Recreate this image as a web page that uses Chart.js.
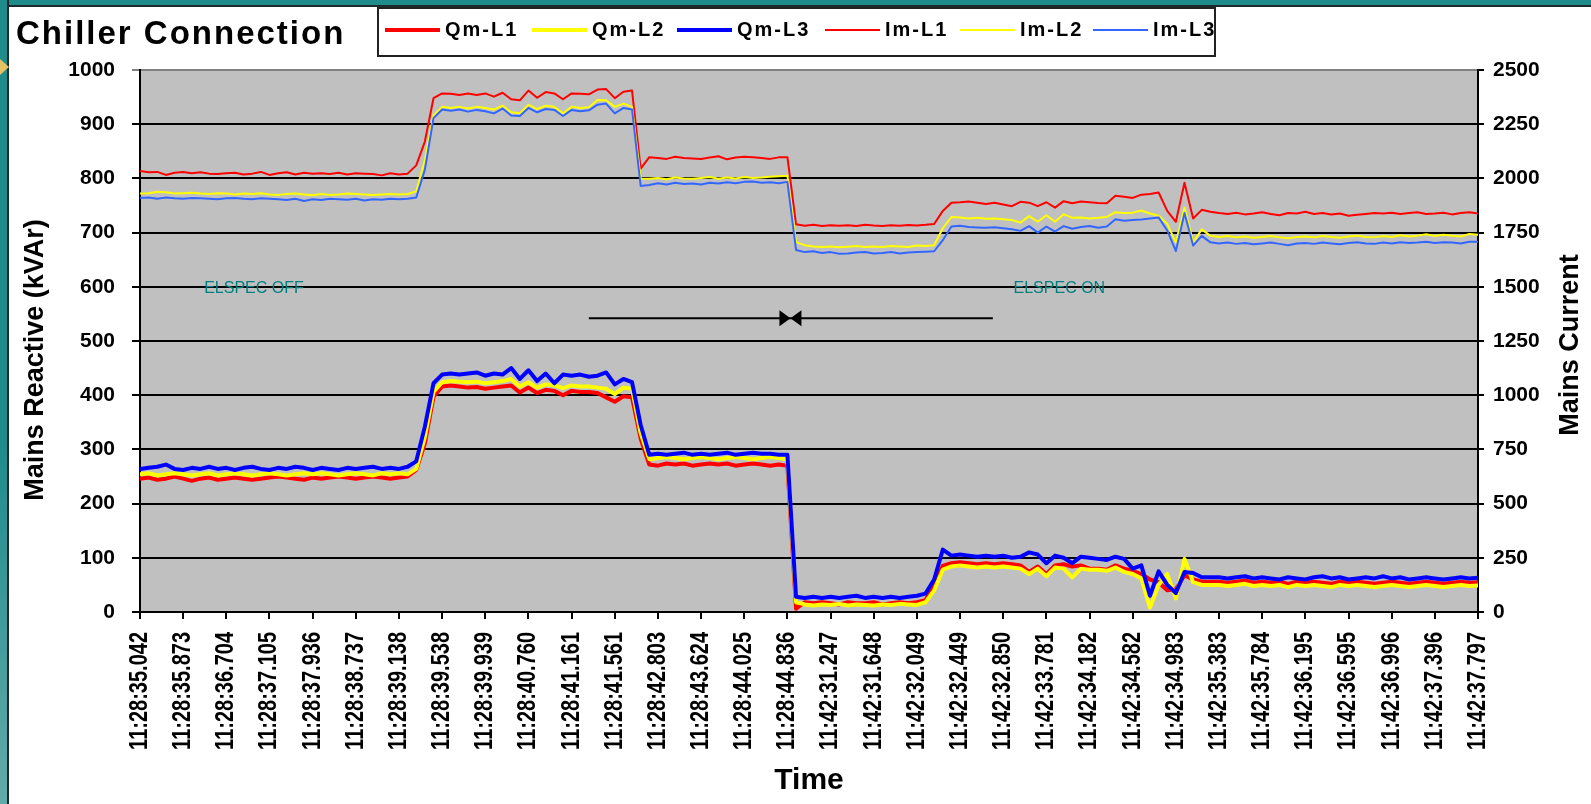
<!DOCTYPE html>
<html>
<head>
<meta charset="utf-8">
<title>Chiller Connection</title>
<script src="https://cdn.jsdelivr.net/npm/chart.js@4.4.1/dist/chart.umd.min.js"></script>
<style>
  html, body { margin: 0; padding: 0; background: #ffffff; }
  body { width: 1591px; height: 804px; position: relative; overflow: hidden;
         font-family: "Liberation Sans", Arial, sans-serif; }
  #chart { position: absolute; left: 0; top: 0; }
  .frame-top { position: absolute; left: 0; top: 0; width: 1591px; height: 5px;
               background: #1f8b8b; border-bottom: 2px solid #1b2b2b; z-index: 3; }
  .frame-left { position: absolute; left: 0; top: 0; width: 7px; height: 804px;
                background: linear-gradient(#1f8b8b, #1f8b8b 55%, #64aaaa);
                border-right: 2px solid #1b2b2b; z-index: 3; }
  .frame-pointer { position: absolute; left: 0; top: 59px; width: 0; height: 0;
                   border-top: 8px solid transparent; border-bottom: 8px solid transparent;
                   border-left: 9px solid #e4c266; z-index: 4; }
  #title { position: absolute; left: 16px; top: 16px; font-size: 33px; line-height: 33px;
           font-weight: bold; letter-spacing: 2px; color: #000; white-space: nowrap; }
  #legend { position: absolute; left: 377px; top: 7px; width: 839px; height: 50px;
            box-sizing: border-box; border: 2px solid #222; background: #fff; }
  #legend .item { position: absolute; top: 0; height: 41px; display: flex; align-items: center; white-space: nowrap; }
  #legend .swatch { width: 55px; margin-right: 5px; }
  #legend .text { font-size: 20px; font-weight: bold; letter-spacing: 2px; color: #000; }
</style>
</head>
<body>
<canvas id="chart" width="1591" height="804"></canvas>
<div class="frame-top"></div>
<div class="frame-left"></div>
<div class="frame-pointer"></div>
<div id="title">Chiller Connection</div>
<div id="legend"></div>
<script>
// Time stamps printed under every fifth sample
const TIME_LABELS = [
  '11:28:35.042', '11:28:35.873', '11:28:36.704', '11:28:37.105', '11:28:37.936',
  '11:28:38.737', '11:28:39.138', '11:28:39.538', '11:28:39.939', '11:28:40.760',
  '11:28:41.161', '11:28:41.561', '11:28:42.803', '11:28:43.624', '11:28:44.025',
  '11:28:44.836', '11:42:31.247', '11:42:31.648', '11:42:32.049', '11:42:32.449',
  '11:42:32.850', '11:42:33.781', '11:42:34.182', '11:42:34.582', '11:42:34.983',
  '11:42:35.383', '11:42:35.784', '11:42:36.195', '11:42:36.595', '11:42:36.996',
  '11:42:37.396', '11:42:37.797'
];
const SAMPLES_PER_LABEL = 5;

// Mains reactive power per phase (kVAr, left axis)
const QM_L1 = [
  246, 248, 244, 246, 250, 246, 242, 246, 248, 244, 246, 248, 246, 244, 246, 248,
  250, 248, 246, 244, 248, 246, 248, 250, 248, 246, 248, 250, 248, 246, 248, 250,
  262, 311, 397,
  416, 418, 416, 414, 415, 412, 414, 416, 418, 405, 414, 404, 410, 408, 400, 408,
  406, 406, 404, 396, 388, 398, 396,
  320,
  272, 270, 274, 272, 274, 270, 272, 274, 272, 274, 270, 272, 274, 272, 270, 272, 270,
  6, 18, 16, 18, 16, 14, 18, 16, 16, 18, 14, 16, 18, 16, 18, 22, 52,
  85,
  90, 92, 90, 88, 90, 88, 90, 88, 86, 74, 84, 70, 86, 88, 84, 86, 80, 80, 78, 86, 80, 76,
  70, 60,
  55, 40, 42, 68, 60, 56, 56,
  56, 54, 56, 58, 54, 56, 54, 56, 52, 56, 54, 56, 54, 52, 56, 54,
  56, 54, 52, 54, 56, 54, 52, 54, 56, 54, 52, 54, 56, 54, 55
];
const QM_L2 = [
  254, 256, 252, 254, 256, 254, 252, 254, 256, 252, 254, 256, 254, 252, 254, 256,
  254, 252, 254, 256, 254, 256, 254, 252, 254, 256, 254, 252, 256, 254, 256, 254,
  264, 323, 406,
  424, 426, 425, 424, 425, 422, 424, 426, 430, 416, 424, 414, 420, 418, 413, 418,
  416, 416, 414, 412, 402, 414, 412,
  330,
  282, 284, 286, 284, 282, 284, 286, 284, 282, 284, 286, 284, 282, 284, 286, 284, 282,
  18, 14, 12, 14, 13, 15, 12, 14, 13, 12, 14, 13, 15, 14, 13, 18, 40,
  78,
  84, 86, 84, 82, 84, 82, 84, 82, 80, 70, 80, 66, 82, 80, 64, 80, 78, 78, 76, 82, 74, 70,
  62,
  8, 50, 70, 25, 98, 55, 50, 50,
  50, 48, 50, 52, 48, 50, 48, 50, 46, 50, 48, 50, 48, 46, 50, 48,
  50, 48, 46, 48, 50, 48, 46, 48, 50, 48, 46, 48, 50, 48, 49
];
const QM_L3 = [
  264, 266, 268, 272, 264, 262, 266, 264, 268, 264, 266, 262, 266, 268, 264, 262,
  266, 264, 268, 266, 262, 266, 264, 262, 266, 264, 266, 268, 264, 266, 264, 268,
  278, 342, 422,
  438, 440, 438, 440, 442, 436, 440, 438, 450, 430, 446, 426, 440, 422, 438, 436,
  438, 434, 436, 442, 420, 430, 424,
  345,
  290, 292, 290, 292, 294, 290, 292, 290, 292, 294, 290, 292, 294, 292, 292, 290, 290,
  28, 26, 28, 26, 28, 26, 28, 30, 26, 28, 26, 28, 26, 28, 30, 34, 60,
  115,
  104, 106, 104, 102, 104, 102, 104, 100, 102, 110, 106, 90, 104, 100, 90, 102, 100, 98, 96, 102, 98, 80,
  86,
  30, 75, 50, 35, 74, 72, 64, 64,
  64, 62, 64, 66, 62, 64, 62, 60, 64, 62, 60, 64, 66, 62, 64, 60,
  62, 64, 62, 66, 62, 64, 60, 62, 64, 62, 60, 62, 64, 62, 63
];

// Mains current per phase (A, right axis)
const IM_L1 = [
  2034, 2028, 2030, 2016, 2026, 2030, 2024, 2028, 2022, 2020, 2024, 2026, 2018, 2022, 2030, 2016,
  2024, 2028, 2018, 2026, 2022, 2024, 2020, 2026, 2018, 2024, 2022, 2020, 2014, 2024, 2018, 2022,
  2060, 2170, 2370,
  2392, 2390, 2385, 2392, 2385, 2392, 2377, 2395, 2365, 2360, 2405, 2372, 2398, 2392, 2365, 2392,
  2390, 2388, 2410, 2412, 2370, 2400, 2405,
  2045,
  2098, 2094, 2090, 2100, 2094, 2092, 2090, 2096, 2102, 2088, 2096, 2100, 2098, 2094, 2090, 2097, 2098,
  1788, 1782, 1786, 1780, 1784, 1782, 1784, 1780, 1786, 1783, 1781, 1784, 1782, 1785, 1783, 1786, 1790,
  1850,
  1888, 1890, 1893, 1888, 1882, 1888, 1880, 1872, 1892, 1888, 1872, 1890, 1865, 1895, 1885, 1893,
  1890, 1887, 1885, 1920, 1915, 1910,
  1925, 1928, 1935,
  1850, 1800, 1980, 1815, 1855, 1846,
  1840, 1836, 1842, 1834, 1838, 1844, 1836, 1830, 1840, 1838, 1846, 1836, 1840, 1834, 1838, 1828,
  1832, 1836, 1840, 1838, 1842, 1836, 1840, 1844, 1836, 1838, 1842, 1834, 1840, 1844, 1838
];
const IM_L2 = [
  1930, 1932, 1938, 1936, 1930, 1932, 1934, 1930, 1928, 1932, 1930, 1926, 1930, 1928, 1932, 1926,
  1924, 1928, 1930, 1926, 1922, 1928, 1924, 1926, 1930, 1928, 1926, 1924, 1926, 1928, 1926, 1928,
  1940, 2085, 2290,
  2330, 2325, 2330, 2322, 2330, 2325, 2318, 2335, 2305, 2300, 2340, 2320, 2335, 2330, 2300, 2330,
  2325, 2328, 2362, 2360, 2330, 2345, 2330,
  2000,
  1998, 2002, 1996, 2004, 2000, 1998, 2002, 2006, 1998, 2004, 2000, 2006, 2002, 2004, 2008, 2010, 2012,
  1706, 1692, 1686, 1684, 1686, 1682, 1685, 1688, 1684, 1686, 1684, 1688, 1686, 1684, 1690, 1688, 1692,
  1770,
  1822, 1820, 1815, 1818, 1814, 1815, 1812, 1808, 1796, 1826, 1800, 1830, 1800, 1835, 1818, 1820,
  1815, 1818, 1822, 1844, 1840, 1842,
  1852, 1838, 1828,
  1790, 1705, 1865, 1705, 1765, 1735,
  1730, 1734, 1728, 1732, 1726, 1730, 1734, 1728, 1724, 1730, 1732, 1728, 1734, 1730, 1726, 1732,
  1736, 1730, 1728, 1734, 1730, 1738, 1732, 1736, 1742, 1734, 1740, 1736, 1732, 1744, 1740
];
const IM_L3 = [
  1910, 1912, 1906, 1912, 1908, 1906, 1910, 1908, 1906, 1904, 1908, 1910, 1906, 1904, 1908, 1906,
  1904, 1900, 1906, 1896, 1904, 1900, 1906, 1904, 1902, 1906, 1898, 1904, 1902, 1906, 1904, 1906,
  1912, 2040, 2278,
  2318, 2312, 2318, 2308, 2316, 2310, 2300, 2322, 2290, 2288, 2325, 2305, 2320, 2316, 2288, 2316,
  2310, 2314, 2340, 2345, 2300, 2325, 2318,
  1965,
  1970, 1978, 1972, 1980, 1974, 1976, 1972, 1980, 1976, 1982, 1978, 1984, 1986, 1980, 1982, 1978, 1984,
  1670, 1660, 1664, 1656, 1660, 1652, 1654, 1658, 1660, 1654, 1656, 1660, 1654, 1658, 1660, 1662, 1664,
  1715,
  1778, 1782, 1776, 1774, 1772, 1775, 1770, 1765, 1758, 1780, 1750, 1778, 1755, 1780, 1768, 1776,
  1780, 1772, 1778, 1812, 1805, 1808,
  1810, 1815, 1820,
  1760, 1665, 1840, 1690, 1735, 1705,
  1700, 1704, 1698, 1702, 1696, 1700, 1704, 1698, 1692, 1700, 1702, 1698, 1704, 1700, 1696, 1702,
  1706, 1700, 1698, 1704, 1700, 1706, 1702, 1704, 1708, 1702, 1706, 1704, 1700, 1708, 1708
];

// Notes written on the plot, placed in axis units (sample index, kVAr)
const STATE_NOTES = [
  { text: 'ELSPEC OFF', at: 13.2, level: 596 },
  { text: 'ELSPEC ON', at: 106.5, level: 596 }
];
const SWITCH_ARROW = { from: 52, to: 98.8, meet: 75.35, level: 542 };

const AXIS_TITLES = { x: 'Time', left: 'Mains Reactive (kVAr)', right: 'Mains Current' };

const FONT = '"Liberation Sans", Arial, sans-serif';
const sampleIndex = QM_L1.map((_, i) => i);

function series(label, values, color, width, axis, order) {
  return {
    label, data: values, yAxisID: axis, order,
    borderColor: color, backgroundColor: color, borderWidth: width,
    pointRadius: 0, tension: 0, fill: false,
    borderJoinStyle: 'round', borderCapStyle: 'round'
  };
}

const plotBackground = {
  id: 'plotBackground',
  beforeDraw(chart) {
    const { ctx, chartArea: a } = chart;
    ctx.save();
    ctx.fillStyle = '#c0c0c0';
    ctx.fillRect(a.left, a.top, a.right - a.left, a.bottom - a.top);
    ctx.restore();
  }
};

const plotNotes = {
  id: 'plotNotes',
  afterDatasetsDraw(chart) {
    const { ctx } = chart;
    const x = chart.scales.x, y = chart.scales.yQ;
    ctx.save();
    ctx.fillStyle = '#007f7f';
    ctx.font = '16px ' + FONT;
    ctx.textAlign = 'center';
    ctx.textBaseline = 'middle';
    STATE_NOTES.forEach(n => ctx.fillText(n.text, x.getPixelForValue(n.at), y.getPixelForValue(n.level)));

    const ly = y.getPixelForValue(SWITCH_ARROW.level);
    const mx = x.getPixelForValue(SWITCH_ARROW.meet);
    ctx.strokeStyle = '#000';
    ctx.fillStyle = '#000';
    ctx.lineWidth = 2;
    ctx.beginPath();
    ctx.moveTo(x.getPixelForValue(SWITCH_ARROW.from), ly);
    ctx.lineTo(x.getPixelForValue(SWITCH_ARROW.to), ly);
    ctx.stroke();
    [-1, 1].forEach(side => {
      ctx.beginPath();
      ctx.moveTo(mx, ly);
      ctx.lineTo(mx + side * 11, ly - 8);
      ctx.lineTo(mx + side * 11, ly + 8);
      ctx.closePath();
      ctx.fill();
    });
    ctx.restore();
  }
};

// Time stamps under the x axis: upright-reading, narrow lettering
const timeTickLabels = {
  id: 'timeTickLabels',
  afterDraw(chart) {
    const { ctx } = chart;
    const x = chart.scales.x;
    ctx.save();
    ctx.fillStyle = '#000';
    ctx.font = 'bold 25px ' + FONT;
    ctx.textAlign = 'right';
    ctx.textBaseline = 'middle';
    x.ticks.forEach(t => {
      const label = TIME_LABELS[Math.round(t.value / SAMPLES_PER_LABEL)];
      if (!label) return;
      ctx.save();
      ctx.translate(x.getPixelForValue(t.value), x.top + 20);
      ctx.rotate(-Math.PI / 2);
      ctx.scale(0.8, 1);
      ctx.fillText(label, 0, 0);
      ctx.restore();
    });
    ctx.restore();
  }
};

const axisTitles = {
  id: 'axisTitles',
  afterDraw(chart) {
    const { ctx, chartArea: a } = chart;
    const yQ = chart.scales.yQ, yI = chart.scales.yI, x = chart.scales.x;
    const mid = (a.top + a.bottom) / 2;
    ctx.save();
    ctx.fillStyle = '#000';
    ctx.textAlign = 'center';
    ctx.textBaseline = 'middle';
    ctx.font = 'bold 27px ' + FONT;
    [[yQ.left + 36, mid + 19, AXIS_TITLES.left], [yI.right - 20, mid + 4, AXIS_TITLES.right]].forEach(([tx, ty, text]) => {
      ctx.save();
      ctx.translate(tx, ty);
      ctx.rotate(-Math.PI / 2);
      ctx.fillText(text, 0, 0);
      ctx.restore();
    });
    ctx.font = 'bold 30px ' + FONT;
    ctx.fillText(AXIS_TITLES.x, (a.left + a.right) / 2, x.bottom - 23);
    ctx.restore();
  }
};

const tickFont = { family: FONT, size: 21, weight: 'bold' };

const chart = new Chart(document.getElementById('chart'), {
  type: 'line',
  data: {
    labels: sampleIndex,
    datasets: [
      series('Qm-L1', QM_L1, '#ff0000', 4, 'yQ', 6),
      series('Qm-L2', QM_L2, '#ffff00', 4, 'yQ', 5),
      series('Qm-L3', QM_L3, '#0000ff', 4, 'yQ', 4),
      series('Im-L1', IM_L1, '#ff0000', 2, 'yI', 3),
      series('Im-L2', IM_L2, '#ffff00', 2, 'yI', 2),
      series('Im-L3', IM_L3, '#3366ff', 2, 'yI', 1)
    ]
  },
  options: {
    responsive: false,
    animation: false,
    events: [],
    layout: { padding: { top: 70, left: 0, right: 0, bottom: 0 } },
    plugins: { legend: { display: false }, tooltip: { enabled: false } },
    scales: {
      x: {
        type: 'linear',
        min: 0,
        max: (TIME_LABELS.length - 1) * SAMPLES_PER_LABEL,
        afterFit(scale) { scale.height = 192; },
        border: { display: true, color: '#000', width: 2 },
        grid: { drawOnChartArea: false, drawTicks: true, tickLength: 7, color: '#000', lineWidth: 2 },
        ticks: { stepSize: SAMPLES_PER_LABEL, autoSkip: false, display: false },
        title: { display: false }
      },
      yQ: {
        position: 'left',
        min: 0,
        max: 1000,
        afterFit(scale) { scale.width = 140; },
        border: { display: true, color: '#000', width: 2 },
        grid: {
          color: c => (c.tick && c.tick.value === 1000 ? '#808080' : '#000'),
          lineWidth: 2,
          tickLength: 8
        },
        ticks: { stepSize: 100, padding: 17, color: '#000', font: tickFont, callback: v => String(v) },
        title: { display: false }
      },
      yI: {
        position: 'right',
        min: 0,
        max: 2500,
        afterFit(scale) { scale.width = 113; },
        border: { display: true, color: '#000', width: 2 },
        grid: { drawOnChartArea: false, color: '#000', lineWidth: 2, tickLength: 6 },
        ticks: { stepSize: 250, padding: 9, color: '#000', font: tickFont, callback: v => String(v) },
        title: { display: false }
      }
    }
  },
  plugins: [plotBackground, plotNotes, timeTickLabels, axisTitles]
});

// Legend box built from the chart's own datasets
const legendBox = document.getElementById('legend');
const legendOffsets = [6, 153, 298, 446, 581, 714];
chart.data.datasets.forEach((ds, i) => {
  const item = document.createElement('div');
  item.className = 'item';
  item.style.left = legendOffsets[i] + 'px';
  const sw = document.createElement('span');
  sw.className = 'swatch';
  sw.style.height = ds.borderWidth + 'px';
  sw.style.background = ds.borderColor;
  const tx = document.createElement('span');
  tx.className = 'text';
  tx.textContent = ds.label;
  item.appendChild(sw);
  item.appendChild(tx);
  legendBox.appendChild(item);
});
</script>
</body>
</html>
